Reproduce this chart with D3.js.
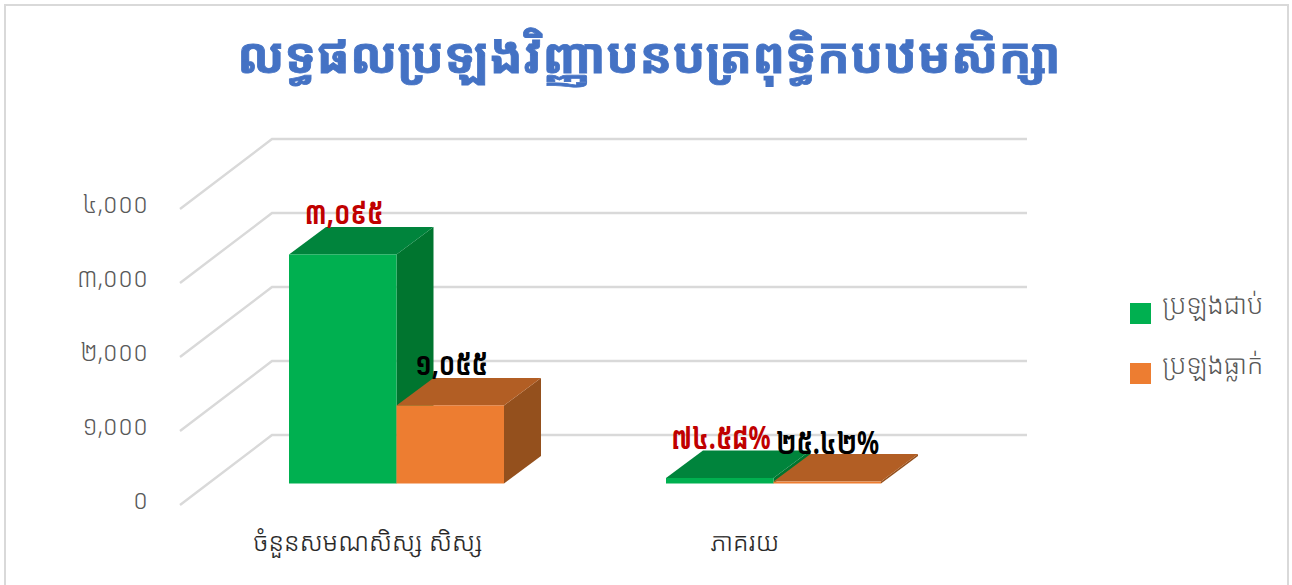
<!DOCTYPE html>
<html><head><meta charset="utf-8">
<script src="https://cdn.jsdelivr.net/npm/d3@7"></script>
<style>html,body{margin:0;padding:0;background:#fff;overflow:hidden}svg{display:block}</style>
</head><body><svg id="c" width="1292" height="585"></svg>
<script>
const titleText = "លទ្ធផលប្រឡងវិញ្ញាបនបត្រពុទ្ធិកបឋមសិក្សា";
const categories = ["ចំនួនសមណសិស្ស សិស្ស", "ភាគរយ"];
const seriesNames = ["ប្រឡងជាប់", "ប្រឡងធ្លាក់"];
const passed = [3095, 74.58];
const failed = [1055, 25.42];
const passedLabels = ["៣,០៩៥", "៧៤.៥៨%"];
const failedLabels = ["១,០៥៥", "២៥.៤២%"];
const tickValues = [0, 1000, 2000, 3000, 4000];
const tickLabels = ["០", "១,០០០", "២,០០០", "៣,០០០", "៤,០០០"];
const colors = [
  {front:"#00B050", top:"#00843C", side:"#00752F"},
  {front:"#ED7D31", top:"#B25E24", side:"#94501D"}
];
const khmer = "'Noto Sans Khmer','Khmer OS','Noto Sans','DejaVu Sans',sans-serif";
const svg = d3.select("#c");
function label(x,y,str,o){
  const t = svg.append("text")
    .attr("transform",`translate(${x},${y}) scale(${o.sx||1},${o.sy||1})`)
    .attr("text-anchor",o.anchor||"middle").attr("font-family",khmer)
    .attr("font-size",o.size).attr("font-weight",o.weight||400).attr("fill",o.fill).text(str);
  if(o.stroke) t.attr("stroke",o.fill).attr("stroke-width",o.stroke);
  return t;
}
svg.append("rect").attr("x",5).attr("y",5).attr("width",1283).attr("height",600)
  .attr("fill","#fff").attr("stroke","#D9D9D9").attr("stroke-width",2);
label(649,73,titleText,{size:49,weight:700,fill:"#4472C4",stroke:0.8});

const y = d3.scaleLinear().domain([0,4000]).range([505,209]);
const wall = {dx:92, dy:-70};
const wallRight = 1027;
const grid = svg.append("g");
tickValues.forEach((t,i)=>{
  grid.append("path").attr("fill","none").attr("stroke","#D9D9D9").attr("stroke-width",2.4)
   .attr("d",d3.line()([[180,y(t)],[180+wall.dx,y(t)+wall.dy],[wallRight,y(t)+wall.dy]]));
  label(148,y(t)+4,tickLabels[i],{size:24.5,weight:300,fill:"#595959",anchor:"end",sy:1.08});
});
const x0 = d3.scaleBand().domain(categories).range([208,962]);
const x1 = d3.scaleBand().domain([0,1]).range([0,215]);
const floorY = y(0)-21.5, barDx = 37, barDy = -27.5;
const h = v => y(0)-y(v);
function bar(xl,w,v,c,g){
  const xr=xl+w, yt=floorY-h(v);
  const pts=a=>a.map(p=>p.join(",")).join(" ");
  g.append("polygon").attr("fill",c.side).attr("points",pts([[xr,floorY],[xr+barDx,floorY+barDy],[xr+barDx,yt+barDy],[xr,yt]]));
  g.append("polygon").attr("fill",c.top).attr("points",pts([[xl,yt],[xl+barDx,yt+barDy],[xr+barDx,yt+barDy],[xr,yt]]));
  g.append("rect").attr("x",xl).attr("y",yt).attr("width",w).attr("height",h(v)).attr("fill",c.front);
}
const bars = svg.append("g");
categories.forEach((cat,i)=>{
  const left = x0(cat)+(x0.bandwidth()-215)/2;
  bar(left+x1(0),x1.bandwidth(),passed[i],colors[0],bars);
  bar(left+x1(1),x1.bandwidth(),failed[i],colors[1],bars);
  const scaleY = {sy:1.3};
  label(left+x1(0)+55,floorY-h(passed[i])+barDy+(i?-1:-3),passedLabels[i],{size:24.5,weight:700,fill:"#C00000",...scaleY});
  label(left+x1(1)+(i?54:55),floorY-h(failed[i])+barDy+(i?0:-3),failedLabels[i],{size:24.5,weight:700,fill:"#000",...scaleY});
  label(left+79,551,cat,{size:25.3,weight:300,fill:"#262626",stroke:0.15});
});
seriesNames.forEach((n,i)=>{
  const ly=303+i*60;
  svg.append("rect").attr("x",1130).attr("y",ly).attr("width",21).attr("height",21).attr("fill",colors[i].front);
  label(1162,ly+11,n,{size:26.5,weight:300,fill:"#595959",anchor:"start"});
});
</script></body></html>
